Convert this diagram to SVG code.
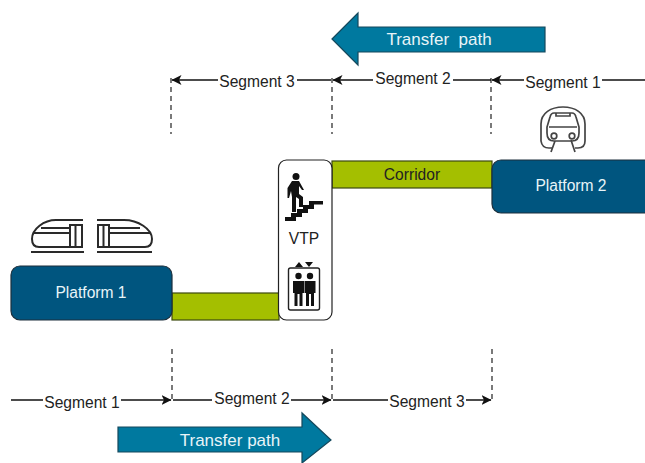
<svg xmlns="http://www.w3.org/2000/svg" width="645" height="463" viewBox="0 0 645 463">
<style>
text{font-family:"Liberation Sans",Arial,sans-serif;font-size:15.6px;fill:#222;text-anchor:middle;white-space:pre}
.w{fill:#e8f4f8}
.plat{fill:#00557f;stroke:#1c2f3c;stroke-width:1.2}
.corr{fill:#a4bf00;stroke:#3c4a10;stroke-width:1.2}
.arrow{fill:#00799f;stroke:#14485c;stroke-width:1.2}
.line{fill:none;stroke:#111;stroke-width:1.3}
.dash{fill:none;stroke:#222;stroke-width:1.2;stroke-dasharray:5 4}
.ic{fill:none;stroke:#2a2a2a;stroke-width:2}
.ic2{fill:none;stroke:#444;stroke-width:1.7}
.bg{fill:#fff}
</style>
<defs>
<marker id="ah" markerWidth="11" markerHeight="10" refX="9.5" refY="5" orient="auto" markerUnits="userSpaceOnUse"><path d="M0 0L10 5L0 10L2.500 5Z" fill="#111"/></marker>
</defs>
<g id="connectors">
<path class="dash" d="M171 78V134M332 78V134M491 78V134M172 349V400M332 349V400M492 349V400"/>
<path class="line" marker-end="url(#ah)" d="M645 80H492"/>
<path class="line" marker-end="url(#ah)" d="M491 80H333"/>
<path class="line" marker-end="url(#ah)" d="M331 80H172"/>
<path class="line" marker-end="url(#ah)" d="M11 400H171"/>
<path class="line" marker-end="url(#ah)" d="M173 400H331"/>
<path class="line" marker-end="url(#ah)" d="M333 400H491"/>
<rect class="bg" x="524" y="74" width="78" height="14"/>
<rect class="bg" x="373" y="72" width="80" height="14"/>
<rect class="bg" x="218" y="74" width="79" height="14"/>
<rect class="bg" x="43" y="396" width="78" height="14"/>
<rect class="bg" x="212" y="392" width="79" height="14"/>
<rect class="bg" x="388" y="394" width="78" height="14"/>
<text x="563" y="88">Segment 1</text>
<text x="413" y="84">Segment 2</text>
<text x="257" y="87">Segment 3</text>
<text x="82" y="408">Segment 1</text>
<text x="252" y="404">Segment 2</text>
<text x="427" y="407">Segment 3</text>
</g>
<g id="transfer-top">
<path class="arrow" d="M332 39L358 13V27H545V52H358V65Z"/>
<text class="w" x="439" y="45" style="font-size:17px">Transfer  path</text>
</g>
<g id="transfer-bottom">
<path class="arrow" d="M118 427H302V413L331 440L302 463V452H118Z"/>
<text class="w" x="230" y="446" style="font-size:17px">Transfer path</text>
</g>
<g id="corridor-bottom"><rect class="corr" x="172" y="293" width="107" height="27"/></g>
<g id="corridor-top"><rect class="corr" x="332" y="161" width="160" height="27"/><text x="412" y="180">Corridor</text></g>
<g id="platform-1"><rect class="plat" x="11" y="266" width="161" height="54" rx="9"/><text class="w" x="91" y="298">Platform 1</text></g>
<g id="platform-2"><rect class="plat" x="492" y="160" width="170" height="53" rx="9"/><text class="w" x="571" y="191">Platform 2</text></g>
<g id="vtp">
<rect x="278.500" y="160" width="53.500" height="160" rx="8" fill="#fff" stroke="#222" stroke-width="1.2"/>
<circle cx="296" cy="176.500" r="3.500" fill="#111"/>
<path d="M292 181H299L304 190H302L299 186V194L303 197V207H299V199L296 197V212H292V197L291 191L289 198H287.500V188Z" fill="#111"/>
<path d="M285 221V217H291V213H297V209H303V205H309V201H323V204.500H314V209H308V213H302V217H296V221Z" fill="#111"/>
<text x="304" y="244">VTP</text>
<rect x="288.500" y="268" width="31" height="42" rx="2" fill="none" stroke="#222" stroke-width="1.4"/>
<path d="M295 267L299 262L303 267ZM305 262H313L309 267Z" fill="#111"/>
<circle cx="298.500" cy="276" r="3.200" fill="#111"/>
<circle cx="310" cy="276" r="3.200" fill="#111"/>
<path d="M293 281H304V293H302.500V306H299.500V294H297.500V306H294.500V293H293ZM304.500 281H315.500V293H314V306H311V294H309V306H306V293H304.500Z" fill="#111"/>
</g>
<g id="train-left">
<path class="ic" d="M83 220H56C44 220 32 229 32 239Q32 247 39 247H83M41 228H70M34 233H70M70 247V225H82V247M75.500 225V247M31 252H84"/>
</g>
<g id="train-right">
<path class="ic" d="M97 220H124C138 220 152 229 152 239Q152 247 145 247H97M140 228H110M150 233H110M98 247V225H109V247M103.500 225V247M97 252H152"/>
</g>
<g id="train-metro">
<path class="ic2" d="M552 148H549Q542 148 541 141V124C541 113 551 107 563 107C575 107 585 113 585 124V141Q585 148 578 148H575"/>
<path class="ic2" d="M554 113H572Q575 113 576 117L579 127V133Q579 141 572 141H554Q547 141 547 133V127L550 117Q551 113 554 113ZM549 127H577M556 113V116H570V113M555 141L551 152M571 140L575 152"/>
<circle class="ic2" cx="554" cy="136" r="2.800"/>
<circle class="ic2" cx="572" cy="136" r="2.800"/>
</g>
</svg>
